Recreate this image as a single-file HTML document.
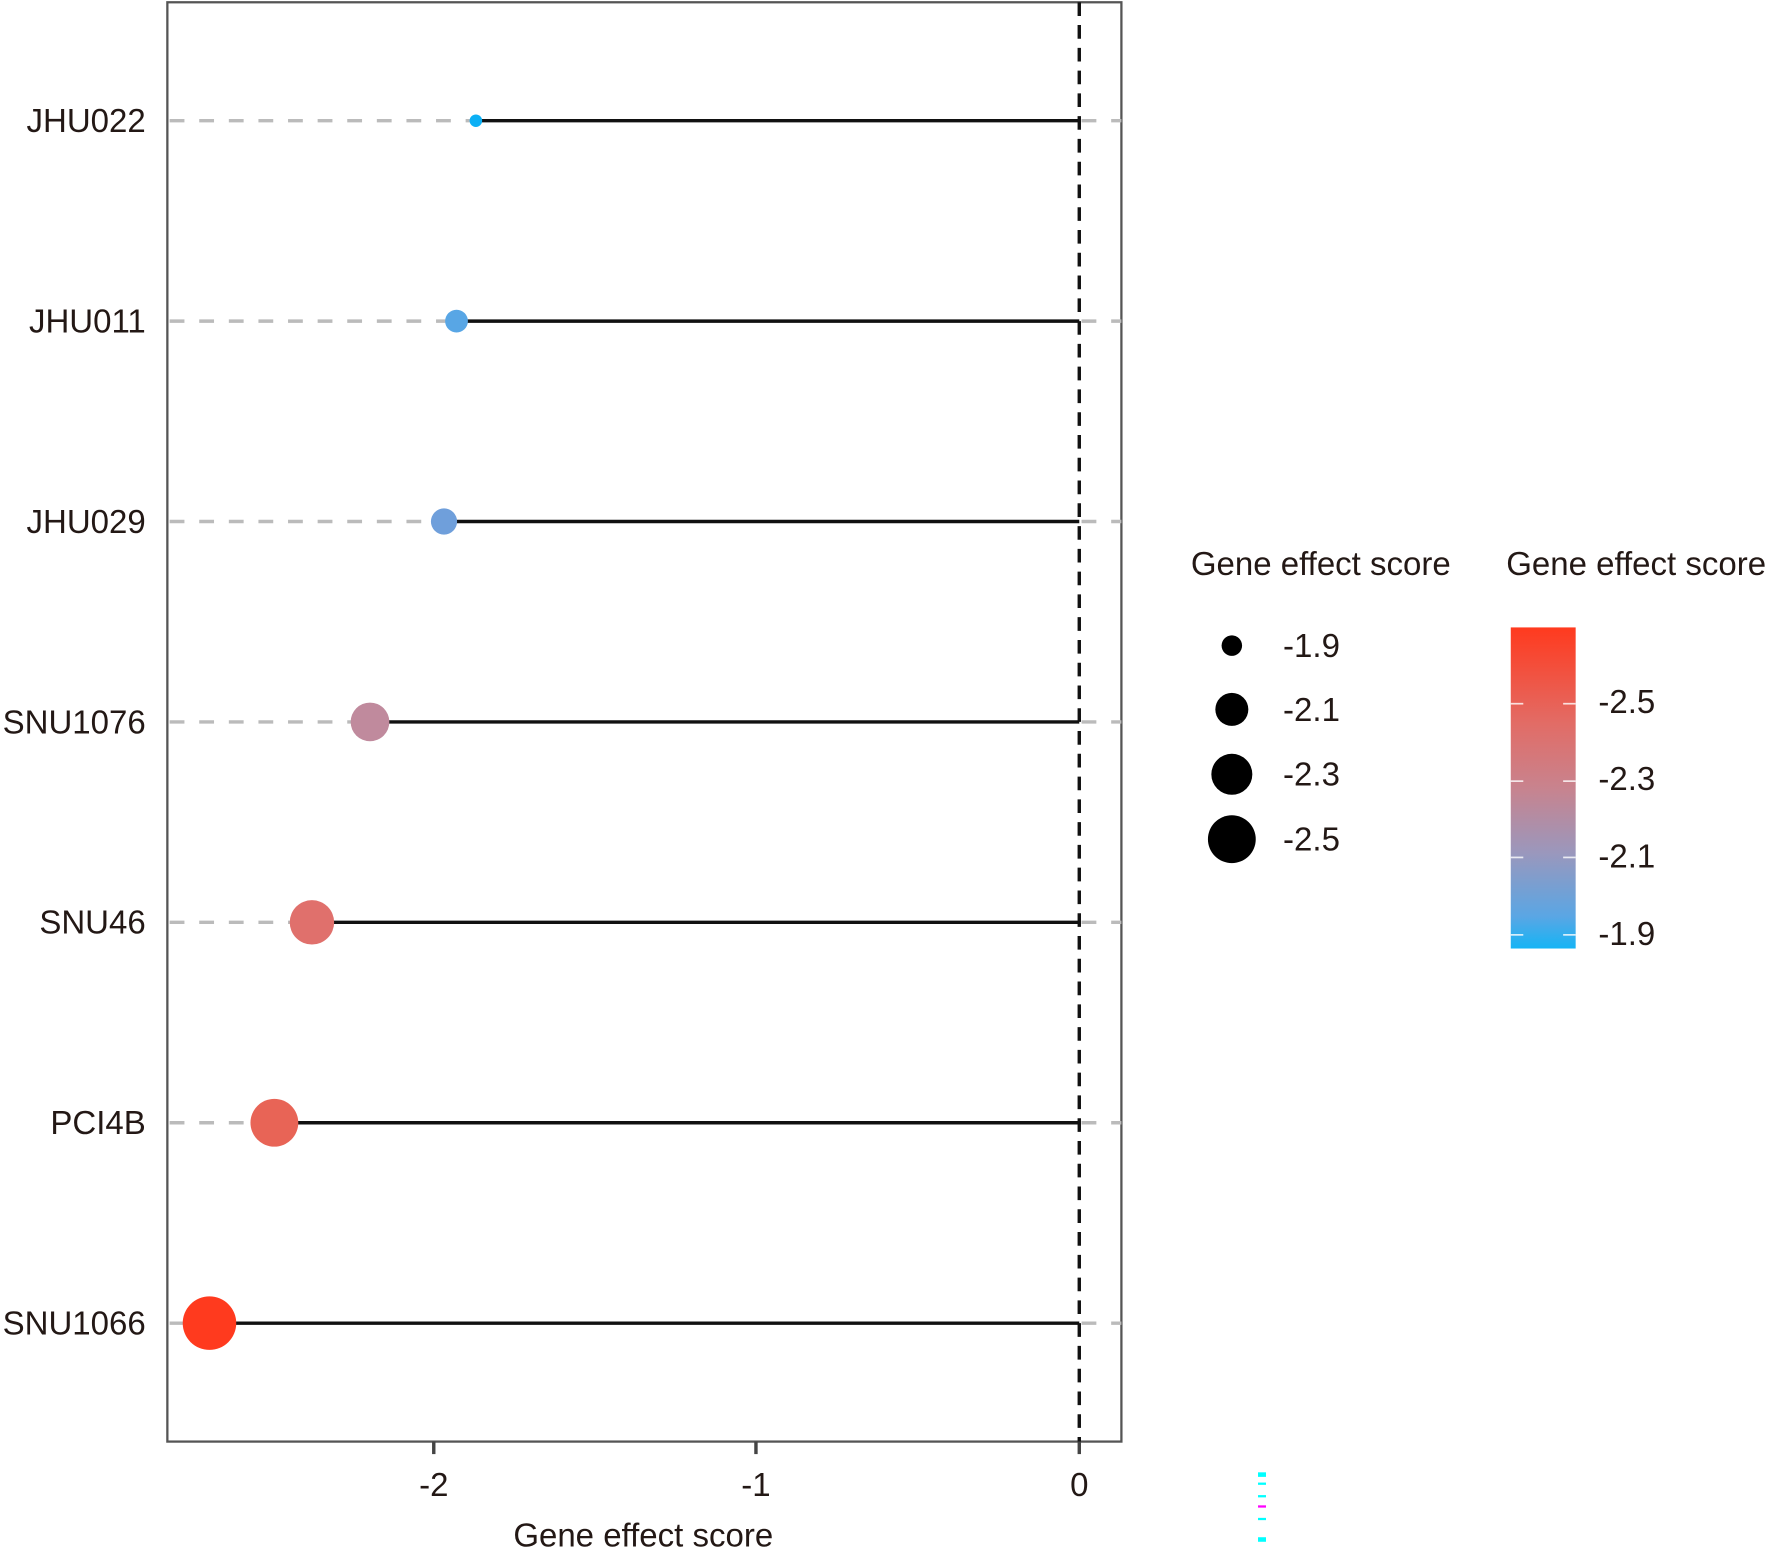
<!DOCTYPE html>
<html><head><meta charset="utf-8"><style>html,body{margin:0;padding:0;background:#fff}svg{display:block}</style></head>
<body>
<svg width="1784" height="1560" viewBox="0 0 1567 1370" preserveAspectRatio="none" xmlns="http://www.w3.org/2000/svg" font-family="'Liberation Sans', sans-serif" fill="#231815">
<defs><linearGradient id="g" x1="0" y1="1" x2="0" y2="0">
<stop offset="0" stop-color="#15b4f5"/><stop offset="0.1" stop-color="#5aa6e4"/><stop offset="0.3" stop-color="#9b97bc"/><stop offset="0.5" stop-color="#c8838e"/><stop offset="0.7" stop-color="#e26c66"/><stop offset="1" stop-color="#ff3a1e"/></linearGradient></defs>
<rect x="147" y="2" width="838" height="1264" fill="none" stroke="#555" stroke-width="2"/>
<g stroke="#bbb" stroke-width="3" stroke-dasharray="13,13">
<line x1="149" y1="106" x2="418" y2="106"/><line x1="149" y1="282" x2="401" y2="282"/><line x1="149" y1="458" x2="390" y2="458"/><line x1="149" y1="634" x2="325" y2="634"/><line x1="149" y1="810" x2="274" y2="810"/><line x1="149" y1="986" x2="241" y2="986"/><line x1="149" y1="1162" x2="184" y2="1162"/>
<line x1="950" y1="106" x2="985" y2="106"/><line x1="950" y1="282" x2="985" y2="282"/><line x1="950" y1="458" x2="985" y2="458"/><line x1="950" y1="634" x2="985" y2="634"/><line x1="950" y1="810" x2="985" y2="810"/><line x1="950" y1="986" x2="985" y2="986"/><line x1="950" y1="1162" x2="985" y2="1162"/>
</g>
<g stroke="#111" stroke-width="3">
<line x1="418" y1="106" x2="948" y2="106"/><line x1="401" y1="282" x2="948" y2="282"/><line x1="390" y1="458" x2="948" y2="458"/><line x1="325" y1="634" x2="948" y2="634"/><line x1="274" y1="810" x2="948" y2="810"/><line x1="241" y1="986" x2="948" y2="986"/><line x1="184" y1="1162" x2="948" y2="1162"/>
</g>
<line x1="948" y1="2" x2="948" y2="1266" stroke="#111" stroke-width="3" stroke-dasharray="12,8"/>
<circle cx="418" cy="106" r="5.5" fill="#0cb0f5"/>
<circle cx="401" cy="282" r="10" fill="#58a6e5"/>
<circle cx="390" cy="458" r="11.5" fill="#6f9fdb"/>
<circle cx="325" cy="634" r="17" fill="#c08a9d"/>
<circle cx="274" cy="810" r="19.5" fill="#e0706c"/>
<circle cx="241" cy="986" r="21" fill="#e86456"/>
<circle cx="184" cy="1162" r="23.5" fill="#ff3a1e"/>
<g font-size="29" text-anchor="end">
<text x="128" y="116">JHU022</text><text x="128" y="292">JHU011</text><text x="128" y="468">JHU029</text><text x="128" y="644">SNU1076</text><text x="128" y="820">SNU46</text><text x="128" y="996">PCI4B</text><text x="128" y="1172">SNU1066</text>
</g>
<g stroke="#444" stroke-width="3"><line x1="381" y1="1266" x2="381" y2="1277"/><line x1="664" y1="1266" x2="664" y2="1277"/><line x1="948" y1="1266" x2="948" y2="1277"/></g>
<g font-size="29" text-anchor="middle"><text x="381" y="1314">-2</text><text x="664" y="1314">-1</text><text x="948" y="1314">0</text>
<text x="565" y="1358">Gene effect score</text></g>
<g font-size="29"><text x="1046" y="505">Gene effect score</text><text x="1323" y="505">Gene effect score</text></g>
<circle cx="1082" cy="567" r="9" fill="#000"/><circle cx="1082" cy="623" r="14.5" fill="#000"/><circle cx="1082" cy="680" r="18" fill="#000"/><circle cx="1082" cy="737" r="21" fill="#000"/>
<g font-size="29"><text x="1127" y="577">-1.9</text><text x="1127" y="633">-2.1</text><text x="1127" y="690">-2.3</text><text x="1127" y="747">-2.5</text>
<text x="1404" y="626">-2.5</text><text x="1404" y="694">-2.3</text><text x="1404" y="762">-2.1</text><text x="1404" y="830">-1.9</text></g>
<rect x="1327" y="551" width="57" height="282" fill="url(#g)"/>
<g stroke="#fff" stroke-width="1.5" opacity="0.8">
<line x1="1327" y1="618" x2="1338" y2="618"/><line x1="1373" y1="618" x2="1384" y2="618"/>
<line x1="1327" y1="686" x2="1338" y2="686"/><line x1="1373" y1="686" x2="1384" y2="686"/>
<line x1="1327" y1="753" x2="1338" y2="753"/><line x1="1373" y1="753" x2="1384" y2="753"/>
<line x1="1327" y1="821" x2="1338" y2="821"/><line x1="1373" y1="821" x2="1384" y2="821"/>
</g>
<g fill="#0ff"><rect x="1105" y="1293" width="7" height="4"/><rect x="1105" y="1302" width="7" height="2"/><rect x="1105" y="1313" width="7" height="2"/><rect x="1105" y="1333" width="7" height="2"/><rect x="1105" y="1350" width="7" height="4"/></g>
<rect x="1105" y="1322" width="7" height="2" fill="#f0f"/>
</svg>
</body></html>
